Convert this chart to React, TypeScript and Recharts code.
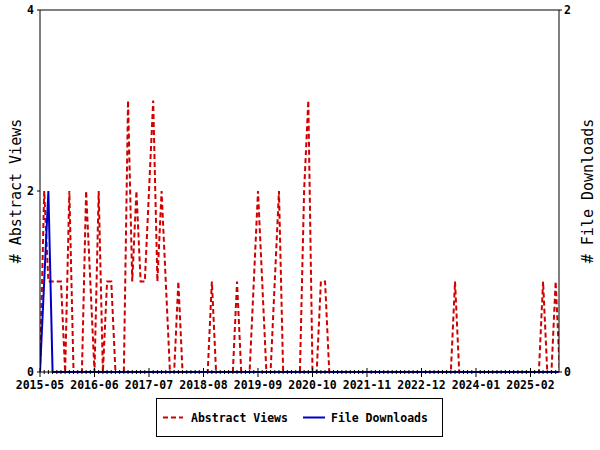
import { Line, LineChart, XAxis, YAxis } from "recharts";

const RED = "#d00000";
const BLUE = "#0000c8";
const MONO = "'DejaVu Sans Mono', monospace";

// month index 0 = 2015-05
const tickMonths = [0, 13, 26, 39, 52, 65, 78, 91, 104, 117];
const tickLabels = [
  "2015-05", "2016-06", "2017-07", "2018-08", "2019-09",
  "2020-10", "2021-11", "2022-12", "2024-01", "2025-02",
];

const abstractViews = [
  0, 2, 1, 1, 1, 1, 0, 2, 0, 0,
  0, 2, 1, 0, 2, 0, 1, 1, 0, 0,
  0, 3, 1, 2, 1, 1, 2, 3, 1, 2,
  1, 0, 0, 1, 0, 0, 0, 0, 0, 0,
  0, 1, 0, 0, 0, 0, 0, 1, 0, 0,
  0, 1, 2, 1, 0, 0, 1, 2, 0, 0,
  0, 0, 0, 2, 3, 0, 0, 1, 1, 0,
  0, 0, 0, 0, 0, 0, 0, 0, 0, 0,
  0, 0, 0, 0, 0, 0, 0, 0, 0, 0,
  0, 0, 0, 0, 0, 0, 0, 0, 0, 1,
  0, 0, 0, 0, 0, 0, 0, 0, 0, 0,
  0, 0, 0, 0, 0, 0, 0, 0, 0, 0,
  1, 0, 0, 1, 0,
];

const fileDownloads = [
  0, 0.5, 1, 0, 0, 0, 0, 0, 0, 0,
  0, 0, 0, 0, 0, 0, 0, 0, 0, 0,
  0, 0, 0, 0, 0, 0, 0, 0, 0, 0,
  0, 0, 0, 0, 0, 0, 0, 0, 0, 0,
  0, 0, 0, 0, 0, 0, 0, 0, 0, 0,
  0, 0, 0, 0, 0, 0, 0, 0, 0, 0,
  0, 0, 0, 0, 0, 0, 0, 0, 0, 0,
  0, 0, 0, 0, 0, 0, 0, 0, 0, 0,
  0, 0, 0, 0, 0, 0, 0, 0, 0, 0,
  0, 0, 0, 0, 0, 0, 0, 0, 0, 0,
  0, 0, 0, 0, 0, 0, 0, 0, 0, 0,
  0, 0, 0, 0, 0, 0, 0, 0, 0, 0,
  0, 0, 0, 0, 0,
];

const X_MAX = 123.8;

const data = abstractViews.map((v, i) => ({ m: i, views: v, downloads: fileDownloads[i] }));
const allMonths = data.map((d) => d.m).filter((m) => m <= X_MAX);

function MonthTick(props: any) {
  const { x, y, payload } = props;
  const k = tickMonths.indexOf(payload.value);
  const major = k >= 0;
  return (
    <g>
      <line x1={x} x2={x} y1={y - (major ? 4 : 2)} y2={y + (major ? 5 : 2)} stroke="#000" strokeWidth={1} />
      {major && (
        <text x={x} y={y + 17} textAnchor="middle" fontFamily={MONO} fontWeight="bold" fontSize={11.5} fill="#000">
          {tickLabels[k]}
        </text>
      )}
    </g>
  );
}

function AxisTitle(props: any) {
  const { viewBox, text, off } = props;
  if (!viewBox) return null;
  const cx = viewBox.x + off;
  const cy = viewBox.y + viewBox.height / 2;
  return (
    <text
      x={cx}
      y={cy}
      transform={`rotate(-90 ${cx} ${cy})`}
      textAnchor="middle"
      dominantBaseline="central"
      fontFamily={MONO}
      fontSize={15}
      fill="#000"
    >
      {text}
    </text>
  );
}

function LegendBox() {
  return (
    <div
      style={{
        position: "absolute",
        left: 156,
        top: 398,
        width: 287,
        height: 39,
        boxSizing: "border-box",
        border: "1px solid #000",
        background: "#fff",
      }}
    >
      <svg width={285} height={37} style={{ display: "block" }}>
        <line x1={6} x2={26} y1={18.5} y2={18.5} stroke={RED} strokeWidth={2} strokeDasharray="5 3" />
        <text x={34} y={22.5} fontFamily={MONO} fontWeight="bold" fontSize={11.5} fill="#000">
          Abstract Views
        </text>
        <line x1={146} x2={168} y1={18.5} y2={18.5} stroke={BLUE} strokeWidth={2} />
        <text x={174} y={22.5} fontFamily={MONO} fontWeight="bold" fontSize={11.5} fill="#000">
          File Downloads
        </text>
      </svg>
    </div>
  );
}

export default function App() {
  return (
    <div style={{ position: "absolute", left: 0, top: 0, width: 600, height: 450, background: "#fff" }}>
      <LineChart width={600} height={450} data={data} margin={{ top: 0, right: 0, bottom: 0, left: 0 }}>
        <XAxis
          dataKey="m"
          type="number"
          domain={[0, X_MAX]}
          allowDataOverflow
          ticks={allMonths}
          interval={0}
          tick={<MonthTick />}
          tickLine={false}
          tickSize={0}
          tickMargin={0}
          height={78}
          axisLine={{ stroke: "#000" }}
        />
        <XAxis
          xAxisId="top"
          dataKey="m"
          type="number"
          orientation="top"
          domain={[0, X_MAX]}
          allowDataOverflow
          tick={false}
          tickLine={false}
          height={10}
          axisLine={{ stroke: "#000" }}
        />
        <YAxis
          yAxisId="left"
          domain={[0, 4]}
          ticks={[0, 2, 4]}
          width={40}
          tickSize={3}
          tickMargin={3}
          axisLine={{ stroke: "#000" }}
          tickLine={{ stroke: "#000" }}
          tick={{ fontFamily: MONO, fontWeight: "bold", fontSize: 11.5, fill: "#000" }}
          label={<AxisTitle text="# Abstract Views" off={16} />}
        />
        <YAxis
          yAxisId="right"
          orientation="right"
          domain={[0, 2]}
          ticks={[0, 2]}
          width={41}
          tickSize={3}
          tickMargin={2}
          axisLine={{ stroke: "#000" }}
          tickLine={{ stroke: "#000" }}
          tick={{ fontFamily: MONO, fontWeight: "bold", fontSize: 11.5, fill: "#000" }}
          label={<AxisTitle text="# File Downloads" off={29} />}
        />
        <Line
          yAxisId="left"
          type="linear"
          dataKey="views"
          stroke={RED}
          strokeWidth={2}
          strokeDasharray="5 3"
          dot={false}
          activeDot={false}
          isAnimationActive={false}
        />
        <Line
          yAxisId="right"
          type="linear"
          dataKey="downloads"
          stroke={BLUE}
          strokeWidth={2}
          dot={false}
          activeDot={false}
          isAnimationActive={false}
        />
      </LineChart>
      <LegendBox />
    </div>
  );
}
